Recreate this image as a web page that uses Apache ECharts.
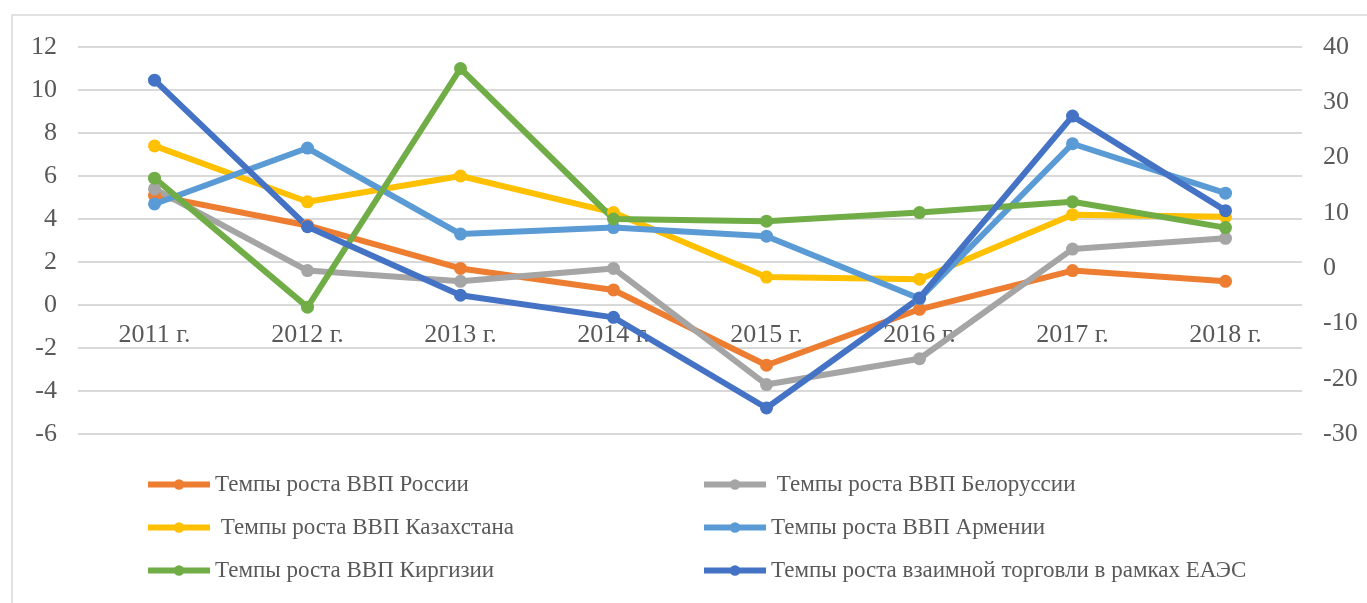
<!DOCTYPE html>
<html>
<head>
<meta charset="utf-8">
<script src="https://cdn.jsdelivr.net/npm/echarts@6/dist/echarts.min.js"></script>
<style>
  html, body { margin: 0; padding: 0; background: #fff; }
  #chart { width: 1367px; height: 603px; }
</style>
</head>
<body>
<div id="chart"></div>
<script>
// годы
const years = ["2011 г.", "2012 г.", "2013 г.", "2014 г.", "2015 г.", "2016 г.", "2017 г.", "2018 г."];

// темпы роста ВВП, % (левая ось)
const russia     = [5.1, 3.7, 1.7, 0.7, -2.8, -0.2, 1.6, 1.1];
const belarus    = [5.4, 1.6, 1.1, 1.7, -3.7, -2.5, 2.6, 3.1];
const kazakhstan = [7.4, 4.8, 6.0, 4.3, 1.3, 1.2, 4.2, 4.1];
const armenia    = [4.7, 7.3, 3.3, 3.6, 3.2, 0.3, 7.5, 5.2];
const kyrgyzstan = [5.9, -0.1, 11.0, 4.0, 3.9, 4.3, 4.8, 3.6];

// темпы роста взаимной торговли, % (правая ось)
const trade = [34.0, 7.5, -4.9, -8.9, -25.3, -5.4, 27.5, 10.4];

const names = [
  "Темпы роста ВВП России",
  " Темпы роста ВВП Белоруссии",
  " Темпы роста ВВП Казахстана",
  "Темпы роста ВВП Армении",
  "Темпы роста ВВП Киргизии",
  "Темпы роста взаимной торговли в рамках ЕАЭС"
];
const colors = ["#ED7D31", "#A5A5A5", "#FFC000", "#5B9BD5", "#70AD47", "#4472C4"];
const values = [russia, belarus, kazakhstan, armenia, kyrgyzstan, trade];

const font = "'Liberation Serif', 'DejaVu Serif', serif";
const textColor = "#595959";

const myChart = echarts.init(document.getElementById("chart"));

// легенда: две колонки, три строки
const legendPos = [
  [145, 473], [701, 473],
  [145, 516], [701, 516],
  [145, 559], [701, 559]
];

const option = {
  animation: false,
  color: colors,
  graphic: [
    {
      type: "rect",
      shape: { x: 12, y: 15, width: 1400, height: 700 },
      style: { fill: "none", stroke: "#d9d9d9", lineWidth: 1.5 },
      silent: true
    }
  ],
  legend: names.map((n, i) => ({
    data: [n],
    left: legendPos[i][0],
    top: legendPos[i][1],
    itemWidth: 62,
    itemHeight: 13,
    itemGap: 0,
    padding: 0,
    lineStyle: { width: 6 },
    textStyle: { fontFamily: font, fontSize: 23, color: textColor }
  })),
  grid: {
    left: 78,
    right: 65,
    top: 47,
    bottom: 169
  },
  xAxis: {
    type: "category",
    data: years,
    axisLine: { show: false },
    axisTick: { show: false },
    // подписи лежат над нулевой линией сетки, как в Excel
    axisLabel: { fontFamily: font, fontSize: 26, color: textColor, margin: -112 }
  },
  yAxis: [
    {
      type: "value",
      min: -6,
      max: 12,
      interval: 2,
      axisLine: { show: false },
      axisTick: { show: false },
      axisLabel: { fontFamily: font, fontSize: 26, color: textColor, margin: 21 },
      splitLine: { lineStyle: { color: "#d9d9d9", width: 2 } }
    },
    {
      type: "value",
      min: -30,
      max: 40,
      interval: 10,
      axisLine: { show: false },
      axisTick: { show: false },
      axisLabel: { fontFamily: font, fontSize: 26, color: textColor, margin: 21 },
      splitLine: { show: false }
    }
  ],
  series: names.map((n, i) => ({
    name: n,
    type: "line",
    yAxisIndex: i === 5 ? 1 : 0,
    data: values[i],
    symbol: "circle",
    symbolSize: 13,
    lineStyle: { width: 6, color: colors[i] },
    itemStyle: { color: colors[i] }
  }))
};

myChart.setOption(option);
</script>
</body>
</html>
